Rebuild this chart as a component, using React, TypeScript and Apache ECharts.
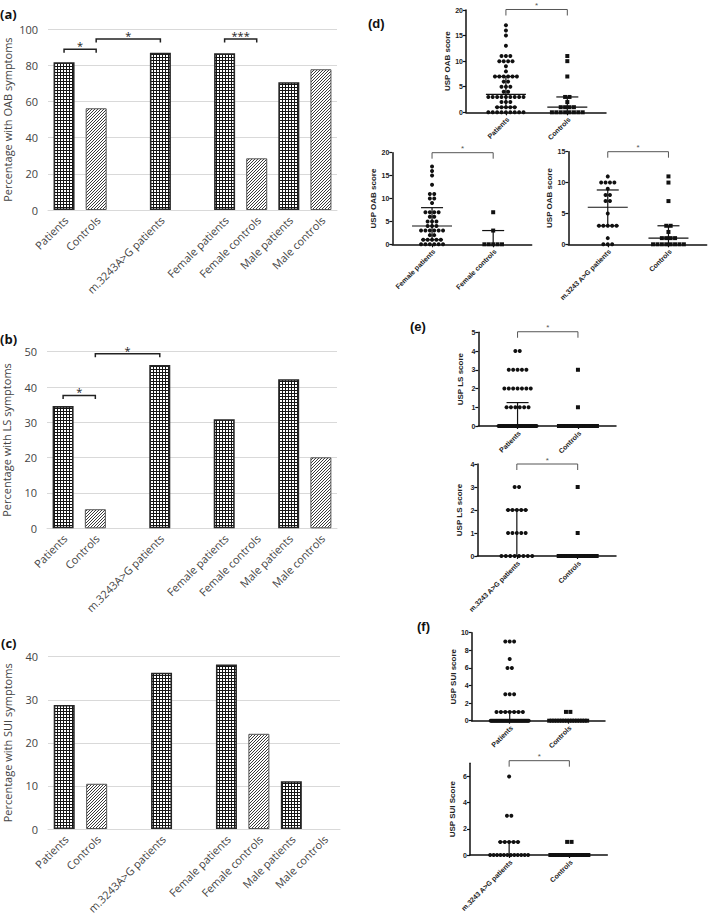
import React, { useEffect, useRef } from 'react';
import * as echarts from 'echarts';

// ---------------- Bar panels (a)-(c) ----------------
const barCategories = ['Patients', 'Controls', '', 'm.3243A>G patients', '', 'Female patients', 'Female controls', 'Male patients', 'Male controls'];
const barIsControl = [false, true, false, false, false, false, true, false, true];
const oabPercent = [81.7, 56.3, null, 87, null, 86.7, 28.6, 70.7, 77.9];
const lsPercent = [34.6, 5.4, null, 46.2, null, 30.9, 0, 42.2, 20.1];
const suiPercent = [28.8, 10.5, null, 36.3, null, 38.2, 22.1, 11.1, 0];

type Bracket = { from: number; to: number; y: number; label: string };
const oabBarBrackets: Bracket[] = [
  { from: 0, to: 1, y: 88.9, label: '*' },
  { from: 1, to: 3, y: 94.6, label: '*' },
  { from: 5, to: 6, y: 94.6, label: '***' },
];
const lsBarBrackets: Bracket[] = [
  { from: 0, to: 1, y: 37.6, label: '*' },
  { from: 1, to: 3, y: 49.4, label: '*' },
];

// ---------------- Dot plots (d)-(f) ----------------
const groupsAll = ['Patients', 'Controls'];
const groupsFemale = ['Female patients', 'Female controls'];
const groupsM3243 = ['m.3243 A>G patients', 'Controls'];

const oabPatients = [17, 16, 15, 13, 11, 11, 11, 10, 10, 10, 10, 9, 8, 7, 7, 7, 7, 7, 7, 6, 6, 5, 5, 5, 4, 4, 3, 3, 3, 3, 3, 3, 3, 3, 3, 2, 2, 2, 1, 1, 1, 1, 1, 0, 0, 0, 0, 0, 0, 0, 0, 0];
const oabControls = [11, 10, 7, 3, 3, 2, 1, 1, 1, 1, 0, 0, 0, 0, 0, 0, 0, 0];
const oabFemalePatients = [17, 16, 15, 13, 11, 11, 10, 10, 9, 7, 7, 7, 7, 6, 6, 5, 5, 5, 4, 4, 4, 3, 3, 3, 3, 3, 3, 2, 2, 1, 1, 1, 1, 1, 0, 0, 0, 0, 0, 0];
const oabFemaleControls = [7, 3, 0, 0, 0, 0, 0];
const oabM3243Patients = [11, 10, 10, 10, 10, 9, 8, 8, 7, 7, 5, 3, 3, 3, 3, 3, 1, 0, 0, 0];

const lsPatients = [4, 4, 3, 3, 3, 3, 3, 2, 2, 2, 2, 2, 2, 2, 1, 1, 1, 1, 1, 1, ...Array(32).fill(0)];
const lsControls = [3, 1, 0, 0, 0, 0, 0, 0, 0, 0, 0, 0, 0, 0, 0, 0, 0, 0];
const lsM3243Patients = [3, 3, 2, 2, 2, 2, 2, 1, 1, 1, 1, 1, 0, 0, 0, 0, 0, 0, 0, 0];

const suiPatients = [9, 9, 9, 7, 6, 6, 3, 3, 3, 1, 1, 1, 1, 1, 1, 1, ...Array(36).fill(0)];
const suiControls = [1, 1, 0, 0, 0, 0, 0, 0, 0, 0, 0, 0, 0, 0, 0, 0, 0, 0];
const suiM3243Patients = [6, 3, 3, 1, 1, 1, 1, 1, 0, 0, 0, 0, 0, 0, 0, 0, 0, 0, 0, 0];

// [group, q1, median, q3]
const oabAllStats = [[0, 1, 3.5, 7], [1, 0, 1, 3]];
const oabFemaleStats = [[0, 1, 4, 8], [1, 0, 0, 3]];
const oabM3243Stats = [[0, 3, 6, 8.8], [1, 0, 1, 3]];
const lsAllStats = [[0, 0, 0, 1.25]];
const lsM3243Stats = [[0, 0, 0, 2]];
const suiAllStats = [[0, 0, 0, 1]];
const suiM3243Stats = [[0, 0, 0, 1]];

const oabAllBracket: Bracket[] = [{ from: 0, to: 1, y: 20.1, label: '*' }];
const oabFemaleBracket: Bracket[] = [{ from: 0, to: 1, y: 20, label: '*' }];
const oabM3243Bracket: Bracket[] = [{ from: 0, to: 1, y: 15, label: '*' }];
const lsAllBracket: Bracket[] = [{ from: 0, to: 1, y: 5.03, label: '*' }];
const lsM3243Bracket: Bracket[] = [{ from: 0, to: 1, y: 4, label: '*' }];
const suiM3243Bracket: Bracket[] = [{ from: 0, to: 1, y: 7.2, label: '*' }];

// ---------------- Layout ----------------
const FONT_X = "'Open Sans', 'Noto Sans', sans-serif";
const FONT_P = "'Liberation Sans', Arial, sans-serif";
const TXT = '#444444';

const GRIDS = [
  { left: 48, top: 29.3, width: 289, height: 180.7 }, // a
  { left: 47, top: 351.7, width: 290, height: 176.6 }, // b
  { left: 48, top: 656.7, width: 292, height: 172.3 }, // c
  { left: 466, top: 10, width: 140, height: 102.3 }, // d1
  { left: 392.3, top: 152.7, width: 139.4, height: 91.6 }, // d2
  { left: 568.3, top: 151.7, width: 138.4, height: 92.6 }, // d3
  { left: 478.3, top: 332.3, width: 137.7, height: 93.7 }, // e1
  { left: 477.3, top: 464, width: 138.7, height: 92 }, // e2
  { left: 471.7, top: 632.7, width: 133.3, height: 88 }, // f1
  { left: 470, top: 763.3, width: 137.3, height: 91.7 }, // f2
];
const XMIN = -0.65;
const XMAX = 1.63;
const DOT_R = 2;
const DOT_STEP = 4.4;
const MAX_ROW = 38;
const MED_HALF = 20;
const CAP_HALF = 11;
const ROT = Math.PI / 4;

function makeTile(kind: 'grid' | 'hatch') {
  const s = 3;
  const c = document.createElement('canvas');
  c.width = s;
  c.height = s;
  const ctx = c.getContext('2d')!;
  ctx.fillStyle = '#ffffff';
  ctx.fillRect(0, 0, s, s);
  if (kind === 'grid') {
    ctx.fillStyle = '#151515';
    ctx.fillRect(0, 0, s, 1);
    ctx.fillRect(0, 0, 1, s);
  } else {
    ctx.fillStyle = '#3a3a3a';
    for (let i = 0; i < s; i++) ctx.fillRect(i, s - 1 - i, 1, 1);
  }
  return { image: c.toDataURL(), repeat: 'repeat', imageWidth: s, imageHeight: s };
}

function swarm(values: number[], group: number) {
  const counts = new Map<number, number>();
  values.forEach((v) => counts.set(v, (counts.get(v) || 0) + 1));
  const seen = new Map<number, number>();
  return values.map((v) => {
    const r = seen.get(v) || 0;
    seen.set(v, r + 1);
    return [group, v, r, counts.get(v) as number];
  });
}

function bracketSeries(idx: number, list: Bracket[], o: { tick: number; color: string; width: number; fontSize: number; font: string; gap: number }) {
  return {
    type: 'custom',
    xAxisIndex: idx,
    yAxisIndex: idx,
    silent: true,
    z: 6,
    encode: { x: 0, y: 2 },
    data: list.map((b) => [b.from, b.to, b.y]),
    renderItem: (params: any, api: any) => {
      const b = list[params.dataIndex];
      const p1 = api.coord([api.value(0), api.value(2)]);
      const p2 = api.coord([api.value(1), api.value(2)]);
      return {
        type: 'group',
        children: [
          {
            type: 'polyline',
            shape: { points: [[p1[0], p1[1] + o.tick], [p1[0], p1[1]], [p2[0], p2[1]], [p2[0], p2[1] + o.tick]] },
            style: { stroke: o.color, lineWidth: o.width, fill: null },
          },
          {
            type: 'text',
            style: { text: b.label, x: (p1[0] + p2[0]) / 2, y: p1[1] - o.gap, align: 'center', verticalAlign: 'middle', fontSize: o.fontSize, fontFamily: o.font, fill: o.color },
          },
        ],
      };
    },
  };
}

// category labels under an axis, rotated 45 degrees, anchored at the tick
function labelSeries(idx: number, labels: string[], o: { dx: number; dy: number; fontSize: number; font: string; weight: string; color: string }) {
  return {
    type: 'custom',
    xAxisIndex: idx,
    yAxisIndex: idx,
    silent: true,
    z: 6,
    encode: { x: 0, y: 1 },
    data: labels.map((_, k) => [k, 0]),
    renderItem: (params: any, api: any) => {
      const p = api.coord([api.value(0), 0]);
      return {
        type: 'text',
        x: p[0] + o.dx,
        y: p[1] + o.dy,
        rotation: ROT,
        style: { text: labels[params.dataIndex], x: 0, y: 0, align: 'right', verticalAlign: 'middle', fontSize: o.fontSize, fontFamily: o.font, fontWeight: o.weight, fill: o.color },
      };
    },
  };
}

export default function App() {
  const ref = useRef<HTMLDivElement>(null);
  useEffect(() => {
    if (!ref.current) return;
    const chart = echarts.init(ref.current, null, { renderer: 'svg' });
    const gridFill = makeTile('grid');
    const hatchFill = makeTile('hatch');

    const grid: any[] = GRIDS.map((g) => ({ ...g, outerBoundsMode: 'none', containLabel: false }));
    const xAxis: any[] = [];
    const yAxis: any[] = [];
    const series: any[] = [];

    // ---- bar panels ----
    const barPanels = [
      { values: oabPercent, max: 100, interval: 20, name: 'Percentage with OAB symptoms', brackets: oabBarBrackets },
      { values: lsPercent, max: 50, interval: 10, name: 'Percentage with LS symptoms', brackets: lsBarBrackets },
      { values: suiPercent, max: 40, interval: 10, name: 'Percentage with SUI symptoms', brackets: [] as Bracket[] },
    ];
    barPanels.forEach((p, i) => {
      xAxis.push({
        gridIndex: i,
        type: 'category',
        data: barCategories,
        boundaryGap: true,
        axisLine: { show: true, lineStyle: { color: '#d9d9d9', width: 1 } },
        axisTick: { show: false },
        axisLabel: { show: false },
      });
      yAxis.push({
        gridIndex: i,
        type: 'value',
        min: 0,
        max: p.max,
        interval: p.interval,
        name: p.name,
        nameLocation: 'middle',
        nameGap: 35,
        nameTextStyle: { fontSize: 11, color: TXT, fontFamily: FONT_X },
        axisLine: { show: false },
        axisTick: { show: false },
        axisLabel: { fontSize: 11, color: TXT, fontFamily: FONT_X, margin: 10 },
        splitLine: { show: true, lineStyle: { color: '#d9d9d9', width: 1 } },
      });
      series.push({
        type: 'bar',
        xAxisIndex: i,
        yAxisIndex: i,
        barWidth: 21,
        silent: true,
        data: p.values.map((v, k) =>
          v == null
            ? null
            : {
                value: v,
                itemStyle: {
                  color: barIsControl[k] ? hatchFill : gridFill,
                  borderColor: barIsControl[k] ? '#555555' : '#262626',
                  borderWidth: v === 0 ? 0 : barIsControl[k] ? 1 : 1.6,
                },
              }
        ),
      });
      series.push(labelSeries(i, barCategories, { dx: 2, dy: 8, fontSize: 11, font: FONT_X, weight: 'normal', color: TXT }));
      if (p.brackets.length) {
        series.push(bracketSeries(i, p.brackets, { tick: 3.5, color: '#222', width: 1.5, fontSize: 11, font: FONT_X, gap: 3.5 }));
      }
    });

    // ---- dot panels ----
    const dotPanels = [
      { groups: groupsAll, a: oabPatients, b: oabControls, max: 20, interval: 5, name: 'USP OAB score', stats: oabAllStats, brackets: oabAllBracket },
      { groups: groupsFemale, a: oabFemalePatients, b: oabFemaleControls, max: 20, interval: 5, name: 'USP OAB score', stats: oabFemaleStats, brackets: oabFemaleBracket },
      { groups: groupsM3243, a: oabM3243Patients, b: oabControls, max: 15, interval: 5, name: 'USP OAB score', stats: oabM3243Stats, brackets: oabM3243Bracket },
      { groups: groupsAll, a: lsPatients, b: lsControls, max: 5, interval: 1, name: 'USP LS score', stats: lsAllStats, brackets: lsAllBracket },
      { groups: groupsM3243, a: lsM3243Patients, b: lsControls, max: 4, interval: 1, name: 'USP LS score', stats: lsM3243Stats, brackets: lsM3243Bracket },
      { groups: groupsAll, a: suiPatients, b: suiControls, max: 10, interval: 2, name: 'USP SUI score', stats: suiAllStats, brackets: [] as Bracket[] },
      { groups: groupsM3243, a: suiM3243Patients, b: suiControls, max: 7, interval: 2, name: 'USP SUI Score', stats: suiM3243Stats, brackets: suiM3243Bracket },
    ];
    dotPanels.forEach((p, j) => {
      const i = j + 3;
      const yTicks: number[] = [];
      for (let t = 0; t <= p.max + 1e-9; t += p.interval) yTicks.push(t);
      xAxis.push({
        gridIndex: i,
        type: 'value',
        min: XMIN,
        max: XMAX,
        axisLine: { show: true, onZero: false, lineStyle: { color: '#111', width: 1.5 } },
        axisTick: { show: true, customValues: [0, 1], length: 3, lineStyle: { color: '#111', width: 1.2 } },
        axisLabel: { show: false },
        splitLine: { show: false },
      });
      yAxis.push({
        gridIndex: i,
        type: 'value',
        min: 0,
        max: p.max,
        interval: p.interval,
        name: p.name,
        nameLocation: 'middle',
        nameGap: 14,
        nameTextStyle: { fontSize: 8, fontWeight: 'bold', color: '#222', fontFamily: FONT_P },
        axisLine: { show: true, onZero: false, lineStyle: { color: '#111', width: 1.5 } },
        axisTick: { show: true, length: 3, customValues: yTicks, lineStyle: { color: '#111', width: 1.2 } },
        axisLabel: { fontSize: 7, fontWeight: 'bold', color: '#222', fontFamily: FONT_P, margin: 3, customValues: yTicks },
        splitLine: { show: false },
      });
      series.push({
        type: 'custom',
        xAxisIndex: i,
        yAxisIndex: i,
        silent: true,
        z: 4,
        encode: { x: 0, y: 1 },
        data: swarm(p.a, 0).concat(swarm(p.b, 1)),
        renderItem: (params: any, api: any) => {
          const g = api.value(0);
          const v = api.value(1);
          const r = api.value(2);
          const n = api.value(3);
          const c = api.coord([g, v]);
          const step = n > 1 ? Math.min(DOT_STEP, MAX_ROW / (n - 1)) : 0;
          const x = c[0] + (r - (n - 1) / 2) * step;
          if (g === 0) return { type: 'circle', shape: { cx: x, cy: c[1], r: DOT_R }, style: { fill: '#111' } };
          return { type: 'rect', shape: { x: x - DOT_R, y: c[1] - DOT_R, width: DOT_R * 2, height: DOT_R * 2 }, style: { fill: '#111' } };
        },
      });
      series.push({
        type: 'custom',
        xAxisIndex: i,
        yAxisIndex: i,
        silent: true,
        z: 5,
        encode: { x: 0, y: 2 },
        data: p.stats,
        renderItem: (params: any, api: any) => {
          const g = api.value(0);
          const q1 = api.value(1);
          const m = api.value(2);
          const q3 = api.value(3);
          const p1 = api.coord([g, q1]);
          const pm = api.coord([g, m]);
          const p3 = api.coord([g, q3]);
          const st = { stroke: '#111', lineWidth: 1.2 };
          const ch: any[] = [];
          if (q3 > q1) ch.push({ type: 'line', shape: { x1: p1[0], y1: p1[1], x2: p3[0], y2: p3[1] }, style: st });
          if (m > 0) ch.push({ type: 'line', shape: { x1: pm[0] - MED_HALF, y1: pm[1], x2: pm[0] + MED_HALF, y2: pm[1] }, style: st });
          if (q3 > m) ch.push({ type: 'line', shape: { x1: p3[0] - CAP_HALF, y1: p3[1], x2: p3[0] + CAP_HALF, y2: p3[1] }, style: st });
          if (q1 < m && q1 > 0) ch.push({ type: 'line', shape: { x1: p1[0] - CAP_HALF, y1: p1[1], x2: p1[0] + CAP_HALF, y2: p1[1] }, style: st });
          return { type: 'group', children: ch };
        },
      });
      series.push(labelSeries(i, p.groups, { dx: 2, dy: 6, fontSize: 7, font: FONT_P, weight: 'bold', color: '#222' }));
      if (p.brackets.length) {
        series.push(bracketSeries(i, p.brackets, { tick: 6, color: '#555', width: 1, fontSize: 8, font: FONT_P, gap: 4 }));
      }
    });

    const panelLabel = (text: string, x: number, y: number, font: string) => ({
      type: 'text',
      x,
      y,
      silent: true,
      style: { text, fontSize: 13, fontWeight: 'bold', fontFamily: font, fill: '#111', align: 'left', verticalAlign: 'top' },
    });

    chart.setOption({
      animation: false,
      backgroundColor: '#ffffff',
      grid,
      xAxis,
      yAxis,
      series,
      graphic: [
        panelLabel('(a)', 0, 7, FONT_X),
        panelLabel('(b)', 0, 332, FONT_X),
        panelLabel('(c)', 1, 636, FONT_X),
        panelLabel('(d)', 368, 17, FONT_P),
        panelLabel('(e)', 410, 320, FONT_P),
        panelLabel('(f)', 417, 620, FONT_P),
      ],
    });
    return () => chart.dispose();
  }, []);
  return <div ref={ref} style={{ position: 'fixed', left: 0, top: 0, width: 709, height: 917, background: '#fff' }} />;
}
